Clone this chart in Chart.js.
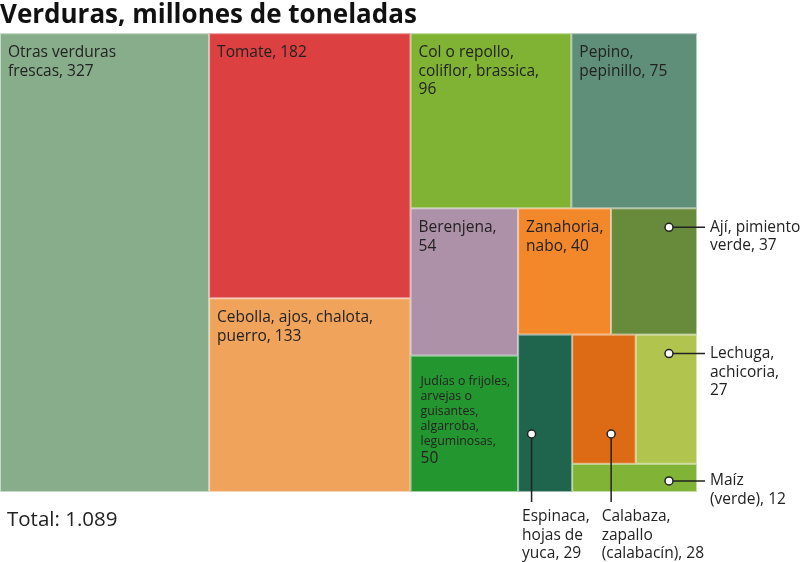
<!DOCTYPE html>
<html>
<head>
<meta charset="utf-8">
<script src="https://cdn.jsdelivr.net/npm/chart.js@4.4.0/dist/chart.umd.min.js"></script>
<style>
  body { margin: 0; background: #fff; }
</style>
</head>
<body>
<canvas id="myChart" width="800" height="562"></canvas>
<script>
// '#' is where the value goes, '\n' is a line break
const names = [
    'Otras verduras\nfrescas, #',
    'Tomate, #',
    'Cebolla, ajos, chalota,\npuerro, #',
    'Col o repollo,\ncoliflor, brassica,\n#',
    'Pepino,\npepinillo, #',
    'Berenjena,\n#',
    'Judías o frijoles,\narvejas o\nguisantes,\nalgarroba,\nleguminosas,\n#',
    'Zanahoria,\nnabo, #',
    'Ají, pimiento\nverde, #',
    'Espinaca,\nhojas de\nyuca, #',
    'Calabaza,\nzapallo\n(calabacín), #',
    'Lechuga,\nachicoria,\n#',
    'Maíz\n(verde), #'
];
const values = [327, 182, 133, 96, 75, 54, 50, 40, 37, 29, 28, 27, 12];
// total as printed in the source (the values above are rounded)
const totalShown = 1089;
const colors = ['#87ad8b', '#dc4040', '#f0a35a', '#80b333', '#5f8f78', '#ad91a8', '#24962f',
    '#f2882a', '#678b3a', '#1f654e', '#dd6b15', '#b1c44d', '#80b336'];
// how many cells go in each strip of the treemap
const stripSizes = [1, 2, 2, 2, 2, 1, 2, 1];
// where the label goes: inside the cell or pulled out with a leader
const labelSide = ['in', 'in', 'in', 'in', 'in', 'in', 'in', 'in', 'right', 'bottom', 'bottom', 'right', 'right'];

function fmt(n) {
    return String(n).replace(/\B(?=(\d{3})+(?!\d))/g, '.');
}

// strips laid along the shorter side, w/h are the real sizes of the area
function layout(vals, strips, w, h) {
    let cells = [];
    let x0 = 0, y0 = 0, x1 = w, y1 = h;
    let left = vals.reduce((a, b) => a + b, 0);
    let i = 0;
    strips.forEach(n => {
        let group = vals.slice(i, i + n);
        let s = group.reduce((a, b) => a + b, 0);
        let dw = x1 - x0, dh = y1 - y0;
        if (dw >= dh) {
            let cw = dw * s / left;
            let yy = y0;
            group.forEach(v => {
                let ch = dh * v / s;
                cells.push({ x0: x0 / w, y0: yy / h, x1: (x0 + cw) / w, y1: (yy + ch) / h });
                yy += ch;
            });
            x0 += cw;
        } else {
            let ch = dh * s / left;
            let xx = x0;
            group.forEach(v => {
                let cw = dw * v / s;
                cells.push({ x0: xx / w, y0: y0 / h, x1: (xx + cw) / w, y1: (y0 + ch) / h });
                xx += cw;
            });
            y0 += ch;
        }
        left -= s;
        i += n;
    });
    return cells;
}

function dot(ctx, x, y) {
    ctx.beginPath();
    ctx.arc(x, y, 4, 0, Math.PI * 2);
    ctx.fillStyle = '#fff';
    ctx.fill();
    ctx.lineWidth = 1.5;
    ctx.strokeStyle = '#222';
    ctx.stroke();
}

const LH = 18.5;
const FONT = '15.5px "Open Sans"';

const treemapPlugin = {
    id: 'treemap',
    afterDatasetsDraw(chart) {
        const { ctx, chartArea, scales } = chart;
        const xs = scales.x, ys = scales.y;
        const cells = layout(values, stripSizes, chartArea.right - chartArea.left, chartArea.bottom - chartArea.top);
        ctx.save();
        let boxes = cells.map((c, i) => {
            let px0 = xs.getPixelForValue(c.x0), px1 = xs.getPixelForValue(c.x1);
            let py0 = ys.getPixelForValue(c.y0), py1 = ys.getPixelForValue(c.y1);
            ctx.fillStyle = colors[i];
            ctx.fillRect(px0, py0, px1 - px0, py1 - py0);
            ctx.strokeStyle = 'rgba(255,255,255,0.55)';
            ctx.lineWidth = 1;
            ctx.strokeRect(px0 + 0.5, py0 + 0.5, px1 - px0 - 1, py1 - py0 - 1);
            return { l: px0, r: px1, t: py0, b: py1 };
        });

        ctx.textBaseline = 'middle';
        ctx.textAlign = 'left';
        let prevRight = -Infinity;
        boxes.forEach((bx, i) => {
            let lines = names[i].replace('#', values[i]).split('\n');
            if (labelSide[i] == 'in') {
                // long names get a smaller font, the number stays big
                let small = lines.length > 4;
                let y = bx.t + (small ? 26 : 19.5);
                lines.forEach((ln, k) => {
                    let last = k == lines.length - 1;
                    ctx.font = small && !last ? '12.3px "Open Sans"' : FONT;
                    ctx.fillStyle = '#222';
                    if (small && last) y += 2;
                    ctx.fillText(ln, bx.l + (small ? 10 : 8), y);
                    y += small ? 15 : LH;
                });
            } else if (labelSide[i] == 'right') {
                let dy = Math.min(bx.t + 19, (bx.t + bx.b) / 2 + 3);
                let dx = bx.r - 28;
                ctx.beginPath();
                ctx.moveTo(dx, dy);
                ctx.lineTo(chartArea.right + 8, dy);
                ctx.strokeStyle = '#222';
                ctx.lineWidth = 1.5;
                ctx.stroke();
                dot(ctx, dx, dy);
                ctx.font = FONT;
                ctx.fillStyle = '#222';
                lines.forEach((ln, k) => ctx.fillText(ln, chartArea.right + 13, dy + k * LH));
            } else {
                ctx.font = FONT;
                let lx = Math.max(bx.l + 4, prevRight + 12);
                let wmax = Math.max(...lines.map(ln => ctx.measureText(ln).width));
                prevRight = lx + wmax;
                let dx = lx + 9.5;
                let dy = chartArea.bottom - 58;
                ctx.beginPath();
                ctx.moveTo(dx, dy);
                ctx.lineTo(dx, chartArea.bottom + 10);
                ctx.strokeStyle = '#222';
                ctx.lineWidth = 1.5;
                ctx.stroke();
                dot(ctx, dx, dy);
                ctx.fillStyle = '#222';
                lines.forEach((ln, k) => ctx.fillText(ln, lx, chartArea.bottom + 25 + k * LH));
            }
        });

        ctx.font = '20.5px "Open Sans"';
        ctx.fillStyle = '#222';
        ctx.fillText('Total: ' + fmt(totalShown), chartArea.left + 7, chartArea.bottom + 28);
        ctx.restore();
    }
};

Chart.defaults.font.family = '"Open Sans", sans-serif';

let ctx1 = document.getElementById('myChart');
let c1 = new Chart(ctx1, {
    type: 'scatter',
    data: {
        datasets: [{ data: [] }]
    },
    options: {
        responsive: false,
        animation: false,
        layout: {
            padding: { left: 0, top: 0, right: 103, bottom: 70 }
        },
        scales: {
            x: { type: 'linear', min: 0, max: 1, display: false },
            y: { type: 'linear', min: 0, max: 1, reverse: true, display: false }
        },
        plugins: {
            legend: { display: false },
            tooltip: { enabled: false },
            title: {
                display: true,
                text: 'Verduras, millones de toneladas',
                align: 'start',
                color: '#111',
                font: { size: 26, weight: 'bold' },
                padding: { top: 0, bottom: 2 }
            }
        }
    },
    plugins: [treemapPlugin]
});
</script>
</body>
</html>
